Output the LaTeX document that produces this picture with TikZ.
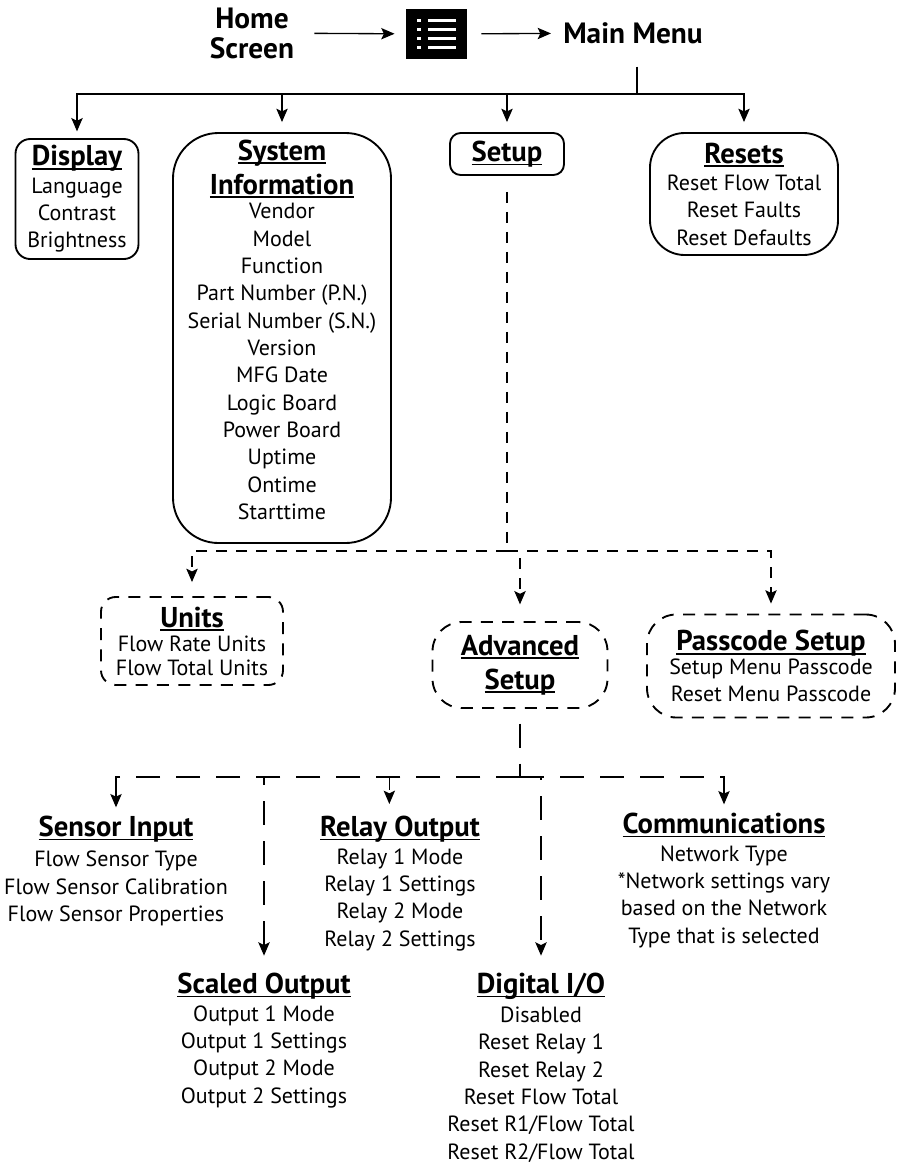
\documentclass[tikz,border=0pt]{standalone}
\usepackage{fontspec}
\setmainfont{PT Sans}
\usetikzlibrary{arrows.meta}

\newcommand{\hd}[1]{{\fontsize{21.5}{20.5}\selectfont\bfseries\setbox0\hbox{#1}\rlap{\rule[-2.8pt]{\wd0}{1.2pt}}\box0}}

\tikzset{
  txt/.style={align=center, inner sep=0pt, font=\fontsize{16.5}{20.5}\selectfont},
  toptxt/.style={align=center, inner sep=0pt, font=\fontsize{22}{22.5}\selectfont\bfseries},
  menubox/.style={txt, draw, line width=1.4pt},
  dashbox/.style={menubox, dash pattern=on 9pt off 7pt},
  tline/.style={line width=1pt},
  arr/.style={-{Stealth[length=10pt,width=8.5pt,inset=2pt]}},
  midline/.style={tline, dash pattern=on 8pt off 7pt},
  lowline/.style={tline, dash pattern=on 18pt off 12pt}
}

\begin{document}
\begin{tikzpicture}[x=0.75pt,y=-0.75pt]
    \useasboundingbox (0,0) rectangle (897,1165);

    \node[toptxt] (home) at (252,33) {Home\\Screen};
    \node[fill=black, minimum width=45.75pt, minimum height=37.5pt, inner sep=0pt] (icon) at (436,34) {};
    \foreach \r in {-13.5,-4.5,4.5,13.5} {
        \fill[white] ([shift={(-19,\r-1.75)}]icon.center) rectangle ++(4,3.5);
        \fill[white] ([shift={(-8,\r-1.75)}]icon.center) rectangle ++(28,3.5);
    }
    \node[toptxt, anchor=west] (mm) at (563,33) {Main Menu};

    \node[menubox, rounded corners=11pt, minimum width=92.25pt, minimum height=90pt] (disp) at (77,199)
        {\hd{Display}\\Language\\Contrast\\Brightness};
    \node[menubox, rounded corners=34pt, minimum width=163.5pt, minimum height=307.5pt] (sys) at (282,338)
        {\hd{System}\\[5pt]\hd{Information}\\[-2pt]Vendor\\Model\\Function\\Part Number (P.N.)\\Serial Number (S.N.)\\Version\\MFG Date\\Logic Board\\Power Board\\Uptime\\Ontime\\Starttime\\[-8pt]\mbox{}};
    \node[menubox, rounded corners=8pt, minimum width=85.5pt, minimum height=31.5pt] (set) at (507,154) {\hd{Setup}};
    \node[menubox, rounded corners=26pt, minimum width=141pt, minimum height=91.5pt] (res) at (744,194)
        {\hd{Resets}\\Reset Flow Total\\Reset Faults\\Reset Defaults};

    \node[dashbox, rounded corners=11pt, minimum width=136.5pt, minimum height=66pt] (units) at (192,641)
        {\hd{Units}\\[-2.5pt]Flow Rate Units\\[-2.5pt]Flow Total Units};
    \node[dashbox, rounded corners=22pt, minimum width=131.25pt, minimum height=64.5pt] (adv) at (520,665)
        {\hd{Advanced}\\[5pt]\hd{Setup}};
    \node[dashbox, rounded corners=22pt, minimum width=186pt, minimum height=77.25pt] (pass) at (771,666)
        {\hd{Passcode Setup}\\[-3pt]Setup Menu Passcode\\Reset Menu Passcode};

    \node[txt, anchor=north] (sens) at (116,816)
        {\hd{Sensor Input}\\[2pt]Flow Sensor Type\\Flow Sensor Calibration\\Flow Sensor Properties};
    \node[txt, anchor=north] (rel) at (400,816)
        {\hd{Relay Output}\\Relay 1 Mode\\Relay 1 Settings\\Relay 2 Mode\\Relay 2 Settings};
    \node[txt, anchor=north] (comm) at (724,813)
        {\hd{Communications}\\Network Type\\*Network settings vary\\based on the Network\\Type that is selected};
    \node[txt, anchor=north] (scal) at (264,973)
        {\hd{Scaled Output}\\Output 1 Mode\\Output 1 Settings\\Output 2 Mode\\Output 2 Settings};
    \node[txt, anchor=north] (dig) at (541,973)
        {\hd{Digital I/O}\\[1pt]Disabled\\Reset Relay 1\\Reset Relay 2\\Reset Flow Total\\Reset R1/Flow Total\\Reset R2/Flow Total};

    \draw[tline, arr, shorten <=15pt, shorten >=8pt] (home) -- (icon);
    \draw[tline, arr, shorten <=11pt, shorten >=9pt] (icon) -- (mm);

    \coordinate (hub) at (637,94);
    \draw[tline, shorten <=17pt] (mm.south -| hub) -- (hub);
    \draw[tline, arr, shorten >=5pt] (hub) -| (disp);
    \foreach \n in {sys,set,res}
        \draw[tline, arr, shorten >=7.5pt] (hub) -| (\n);

    \coordinate (hub2) at (507,551);
    \draw[midline, shorten <=12pt] (set) -- (hub2);
    \draw[midline, arr, shorten >=10.5pt] (hub2) -| (units);
    \draw[midline, arr, shorten >=12.5pt] (hub2) -| (adv);
    \draw[midline, arr, shorten >=7.5pt] (hub2) -| (pass);

    \coordinate (hub3) at (520,777);
    \draw[lowline, shorten <=11pt] (adv) -- (hub3);
    \draw[lowline, arr, shorten >=6.5pt] (hub3) -| (sens);
    \draw[lowline, arr, shorten >=9pt] (hub3) -| ([xshift=-8pt]rel.north);
    \draw[lowline, arr, shorten >=6.5pt] (hub3) -| (comm);
    \draw[lowline, arr, shorten >=13pt] (hub3) -| (scal);
    \draw[lowline, arr, shorten >=13pt] (hub3) -| (dig);
\end{tikzpicture}
\end{document}
